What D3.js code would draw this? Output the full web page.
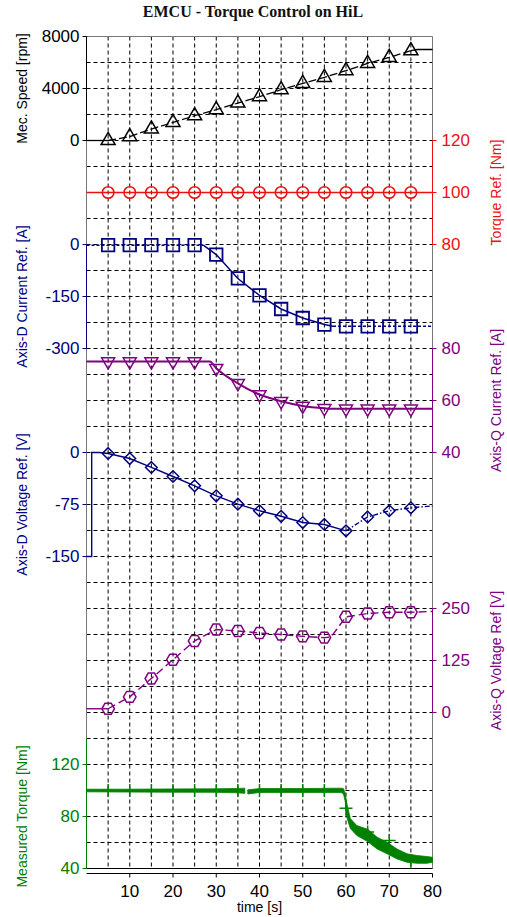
<!DOCTYPE html>
<html><head><meta charset="utf-8">
<script src="https://cdn.jsdelivr.net/npm/d3@7"></script>
<style>body{margin:0;background:#fff}svg{display:block}</style>
</head><body>
<svg id="chart" width="507" height="917"></svg>
<script>
// ---------------- DATA ----------------
const markerTimes = [5,10,15,20,25,30,35,40,45,50,55,60,65,70,75];
const gridTimes   = [5,10,15,20,25,30,35,40,45,50,55,60,65,70,75];
const xTickValues = [10,20,30,40,50,60,70,80];

const speedTicks = [0,4000,8000];
const torqueRefTicks = [80,100,120];
const dCurTicks = [-300,-150,0];
const qCurTicks = [40,60,80];
const dVoltTicks = [-150,-75,0];
const qVoltTicks = [0,125,250];
const measTicks = [40,80,120];

const speedTime = [0,5,10,15,20,25,30,35,40,45,50,55,60,65,70,75,76.5,80];
const speedRpm  = [0,0,300,880,1390,1905,2370,2880,3370,3905,4390,4855,5370,5930,6390,6905,7000,7000];

const torqueRefTime = [0,5,10,15,20,25,30,35,40,45,50,55,60,65,70,75,80];
const torqueRefNm   = [100,100,100,100,100,100,100,100,100,100,100,100,100,100,100,100,100];

const dCurTime = [0,5,10,15,20,25,27,30,35,40,45,50,55,57,60,65,70,75,80];
const dCurA    = [-2,-2,-2,-2,-2,-2,-2,-29,-98,-147,-186,-212,-231,-236,-236,-236,-236,-236,-236];

const qCurTime = [0,5,10,15,20,25,28.5,30,35,40,45,50,55,57,60,65,70,75,80];
const qCurA    = [75,75,75,75,75,75,75,72.4,66.6,62.3,59.7,57.9,57,56.8,56.8,56.8,56.8,56.8,56.8];

const dVoltTime = [0,1.2,1.2,3,5,10,15,20,25,30,35,40,45,50,55,60,65,70,75,80];
const dVoltV    = [-150,-150,0,0,-1.4,-8.7,-21.6,-34.6,-48,-62.5,-74.5,-84,-92,-101,-103.8,-113,-93,-84,-79.8,-77];

const qVoltTime = [0,5,10,15,20,25,30,35,40,45,50,55,56.5,60,65,70,75,80];
const qVoltV    = [9,9,37.5,81.7,127,172,199.5,196,191,187.5,183,180,181,230,238,241,241,243];

const measTime = [0,10,20,30,35,36.6,36.9,37.3,40,50,58.8,59.4,59.8,60.2,61,62.5,65,67.2,69.5,71.8,74.1,76.4,78.7,80];
const measHi   = [101,101,101.2,101.3,101.6,101.8,NaN,100.5,101.5,101.5,101.8,101.5,98,90,78.4,73,70.2,64.1,60.2,55,51.3,50,49.2,48.6];
const measLo   = [99,98.8,98.7,98.6,98.2,97.8,NaN,97.3,98.5,98.5,98.5,97.5,92,79.4,70.8,65.4,60.7,55,51.3,47.4,44.8,44,44,44.8];
const measMarkers = [100,100,100,100,100,100,100,100,100,100,100,86.4,68,61.5,45.5];

// ---------------- SETUP ----------------
const FONT = "'Liberation Sans', Arial, Helvetica, sans-serif";
const BLACK="#000", RED="#ee1111", NAVY="#000080", PURPLE="#800080", GREEN="#008000";
const svg = d3.select("#chart");

const x = d3.scaleLinear().domain([0,80]).range([86.5,432.5]);
const row = d3.scaleLinear().domain([0,32]).range([36.5,868.5]);
const X0 = x(0), X1 = x(80), Y0 = row(0), Y1 = row(32);

const ySpeed = d3.scaleLinear().domain([0,8000]).range([row(4),row(0)]);
const yTref  = d3.scaleLinear().domain([80,120]).range([row(8),row(4)]);
const yId    = d3.scaleLinear().domain([-300,0]).range([row(12),row(8)]);
const yIq    = d3.scaleLinear().domain([40,80]).range([row(16),row(12)]);
const yVd    = d3.scaleLinear().domain([-150,0]).range([row(20),row(16)]);
const yVq    = d3.scaleLinear().domain([0,250]).range([row(26),row(22)]);
const yTm    = d3.scaleLinear().domain([40,120]).range([row(32),row(28)]);

// title
svg.append("text").attr("x",253).attr("y",16.5).attr("text-anchor","middle")
  .style("font-family","'Liberation Serif','Times New Roman',serif").style("font-weight","bold")
  .style("font-size","16px").attr("fill","#111").text("EMCU - Torque Control on HiL");

// grid
const grid = svg.append("g").attr("stroke","#000").attr("stroke-width",1).attr("stroke-dasharray","4,3");
grid.selectAll("line.v").data(gridTimes).join("line").attr("class","v")
  .attr("x1",d=>x(d)).attr("x2",d=>x(d)).attr("y1",Y0).attr("y2",Y1);
grid.selectAll("line.h").data(d3.range(1,32)).join("line").attr("class","h")
  .attr("x1",X0).attr("x2",X1).attr("y1",d=>row(d)).attr("y2",d=>row(d));

// frame
const frame = svg.append("g").attr("fill","none").attr("stroke-width",1);
frame.append("path").attr("d",`M${X0},${Y1}V${Y0}H${X1}V${Y1}`).attr("stroke","#777");
frame.append("line").attr("x1",X0).attr("x2",X1).attr("y1",Y1).attr("y2",Y1).attr("stroke","#000");

// ---------------- HELPERS ----------------
function drawSeries(times, vals, yS, color, width, dashFor, curve){
  const pts = times.map((t,i)=>[t, vals[i]]);
  const runs = [];
  for (let i=0;i<pts.length-1;i++){
    const mid=(pts[i][0]+pts[i+1][0])/2;
    const dash=dashFor?dashFor(mid):null;
    const last=runs[runs.length-1];
    if (last && last.dash===dash) last.pts.push(pts[i+1]);
    else runs.push({dash, pts:[pts[i],pts[i+1]]});
  }
  const line=d3.line().x(d=>x(d[0])).y(d=>yS(d[1])).curve(curve||d3.curveLinear);
  runs.forEach(r=>svg.append("path").attr("d",line(r.pts)).attr("fill","none")
    .attr("stroke",color).attr("stroke-width",width).attr("stroke-dasharray",r.dash));
}
function poly(points){ return "M"+points.map(p=>p[0].toFixed(2)+","+p[1].toFixed(2)).join("L")+"Z"; }
function triUp(s){ const h=s*Math.sqrt(3)/2; return poly([[0,-2*h/3],[s/2,h/3],[-s/2,h/3]]); }
function triDown(s){ const h=s*Math.sqrt(3)/2; return poly([[0,2*h/3],[s/2,-h/3],[-s/2,-h/3]]); }
function square(s){ return poly([[-s/2,-s/2],[s/2,-s/2],[s/2,s/2],[-s/2,s/2]]); }
function diamond(r){ return poly([[0,-r],[r,0],[0,r],[-r,0]]); }
function hexagon(R){ return poly(d3.range(6).map(k=>[R*Math.cos(k*Math.PI/3),R*Math.sin(k*Math.PI/3)])); }
function plus(s){ return `M${-s/2},0H${s/2}M0,${-s/2}V${s/2}`; }
const circ = r => d3.symbol(d3.symbolCircle, Math.PI*r*r)();

function drawMarkers(times, vals, yS, shape, color, width){
  const pts = markerTimes.map(t=>[t, vals[times.indexOf(t)]]);
  svg.append("g").selectAll("path").data(pts).join("path")
    .attr("transform",d=>`translate(${x(d[0])},${yS(d[1])})`)
    .attr("d",shape).attr("fill","none").attr("stroke",color).attr("stroke-width",width);
}

// ---------------- DATA MARKS ----------------
// speed
drawSeries(speedTime, speedRpm, ySpeed, BLACK, 1.3, t=>(t<5||t>75)?null:"8,3");
drawMarkers(speedTime, speedRpm, ySpeed, triUp(14), BLACK, 1.5);

// torque ref
drawSeries(torqueRefTime, torqueRefNm, yTref, RED, 1.5, null);
drawMarkers(torqueRefTime, torqueRefNm, yTref, circ(5.8), RED, 1.5);

// D current
drawSeries(dCurTime, dCurA, yId, NAVY, 1.5, t=>(t<27||t>57)?"3,2":null);
drawMarkers(dCurTime, dCurA, yId, square(12.5), NAVY, 1.8);

// Q current
drawSeries(qCurTime, qCurA, yIq, PURPLE, 2, null, d3.curveMonotoneX);
drawMarkers(qCurTime, qCurA, yIq, triDown(13), PURPLE, 1.5);

// D voltage
drawSeries(dVoltTime, dVoltV, yVd, NAVY, 1.4, t=>(t<60)?null:"5,2,1.5,2");
drawMarkers(dVoltTime, dVoltV, yVd, diamond(5.8), NAVY, 1.5);

// Q voltage
drawSeries(qVoltTime, qVoltV, yVq, PURPLE, 1.4, t=>(t<5)?null:"8,4");
drawMarkers(qVoltTime, qVoltV, yVq, hexagon(6.3), PURPLE, 1.5);

// measured torque band
const measPts = measTime.map((t,i)=>[t, measHi[i], measLo[i]]);
const area = d3.area().defined(d=>!isNaN(d[1])).x(d=>x(d[0])).y0(d=>yTm(d[2])).y1(d=>yTm(d[1]));
svg.append("path").attr("d",area(measPts)).attr("fill",GREEN).attr("stroke",GREEN).attr("stroke-width",0.8);
drawMarkers(markerTimes, measMarkers, yTm, plus(13), GREEN, 1.5);

// ---------------- AXES ----------------
const panels = [
  {s:ySpeed, side:"L", ticks:speedTicks, color:BLACK, label:"Mec. Speed [rpm]"},
  {s:yTref, side:"R", ticks:torqueRefTicks, color:RED, label:"Torque Ref. [Nm]"},
  {s:yId, side:"L", ticks:dCurTicks, color:NAVY, label:"Axis-D Current Ref. [A]"},
  {s:yIq, side:"R", ticks:qCurTicks, color:PURPLE, label:"Axis-Q Current Ref. [A]"},
  {s:yVd, side:"L", ticks:dVoltTicks, color:NAVY, label:"Axis-D Voltage Ref. [V]", noDomain:true},
  {s:yVq, side:"R", ticks:qVoltTicks, color:PURPLE, label:"Axis-Q Voltage Ref [V]"},
  {s:yTm, side:"L", ticks:measTicks, color:GREEN, label:"Measured Torque [Nm]"}
];
panels.forEach(p=>{
  const left = p.side==="L";
  const ax = (left?d3.axisLeft(p.s):d3.axisRight(p.s)).tickValues(p.ticks).tickSize(4)
    .tickSizeOuter(0).tickPadding(left?3:5).offset(0).tickFormat(d=>String(d));
  const gA = svg.append("g").attr("transform",`translate(${left?X0:X1},0)`).call(ax)
    .attr("font-family",FONT).attr("font-size",17);
  gA.select(".domain").attr("stroke",p.color).attr("stroke-opacity",p.noDomain?0:1);
  gA.selectAll(".tick line").attr("stroke",p.color);
  gA.selectAll(".tick text").attr("fill",p.color);
  const r = p.s.range(); const cy=(r[0]+r[1])/2;
  svg.append("text").attr("transform",`translate(${left?27:501},${cy}) rotate(-90)`)
    .attr("text-anchor","middle").attr("fill",p.color)
    .style("font-family",FONT).style("font-size","14px").text(p.label);
});
// green axis line extends over torque panel
svg.append("line").attr("x1",X0).attr("x2",X0).attr("y1",row(27)).attr("y2",Y1).attr("stroke",GREEN);

// x axis
const xAx = d3.axisBottom(x).tickValues(xTickValues).tickSize(4).tickSizeOuter(0).tickPadding(7).offset(0);
svg.append("g").attr("transform",`translate(0,873.5)`).call(xAx)
  .attr("font-family",FONT).attr("font-size",17).call(g=>g.selectAll("text").attr("fill","#000"));
svg.append("text").attr("x",(X0+X1)/2).attr("y",912).attr("text-anchor","middle")
  .style("font-family",FONT).style("font-size","14px").attr("fill","#000").text("time [s]");
</script>
</body></html>
